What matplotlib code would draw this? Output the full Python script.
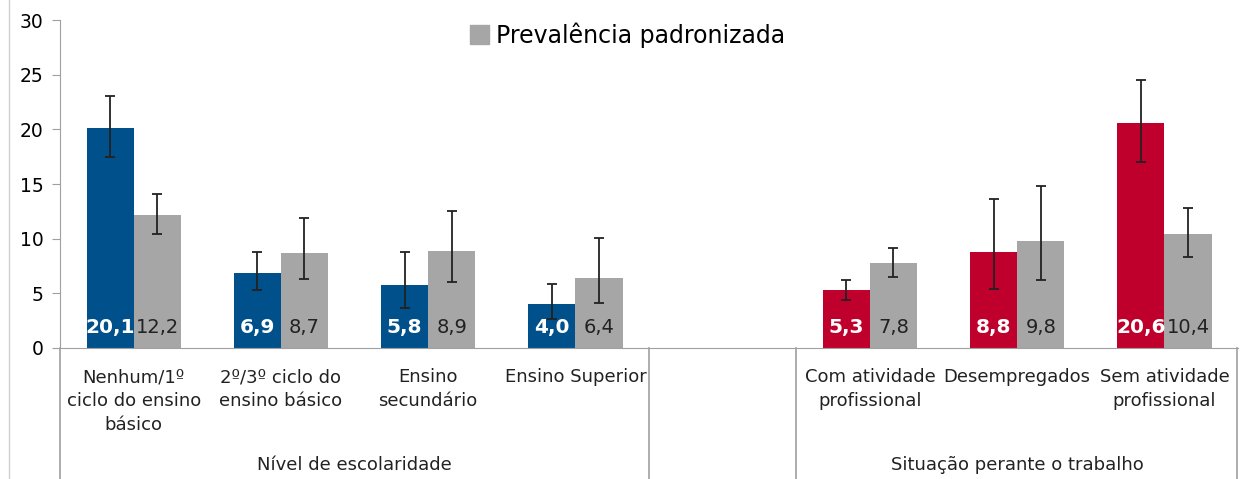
import numpy as np
import matplotlib
matplotlib.use("Agg")
import matplotlib.pyplot as plt
from matplotlib.lines import Line2D
from matplotlib.patches import Patch

# slots 0-3 = nível de escolaridade, slot 4 empty, slots 5-7 = situação perante o trabalho
labels = ["Nenhum/1º\nciclo do ensino\nbásico", "2º/3º ciclo do\nensino básico",
          "Ensino\nsecundário", "Ensino Superior",
          "Com atividade\nprofissional", "Desempregados", "Sem atividade\nprofissional"]
slots = [0, 1, 2, 3, 5, 6, 7]
groups = ["Nível de escolaridade", "Situação perante o trabalho"]

crude    = [20.1, 6.9, 5.8, 4.0, 5.3, 8.8, 20.6]
crude_lo = [17.45, 5.33, 3.65, 2.65, 4.4, 5.4, 17.0]
crude_hi = [23.05, 8.8, 8.8, 5.9, 6.23, 13.6, 24.5]

std    = [12.2, 8.7, 8.9, 6.4, 7.8, 9.8, 10.4]
std_lo = [10.47, 6.3, 6.03, 4.08, 6.47, 6.23, 8.3]
std_hi = [14.07, 11.85, 12.58, 10.1, 9.15, 14.86, 12.8]

blue = '#00508C'
red = '#C0002C'
gray = '#A6A6A6'
axcol = '#A0A0A0'

fig = plt.figure(figsize=(12.4, 4.79), dpi=100)
ax = fig.add_axes([0.0484, 0.2735, 0.9500, 0.6845])

x = np.array(slots, dtype=float)
w = 0.32
colors = [blue] * 4 + [red] * 3
crude = np.array(crude); std = np.array(std)
cerr = [crude - np.array(crude_lo), np.array(crude_hi) - crude]
serr = [std - np.array(std_lo), np.array(std_hi) - std]

ax.bar(x - w / 2, crude, w, color=colors, zorder=2)
ax.bar(x + w / 2, std, w, color=gray, zorder=2)
ax.errorbar(x - w / 2, crude, yerr=cerr, fmt='none', ecolor='#222222',
            elinewidth=1.3, capsize=3.5, capthick=1.3, zorder=3)
ax.errorbar(x + w / 2, std, yerr=serr, fmt='none', ecolor='#222222',
            elinewidth=1.3, capsize=3.5, capthick=1.3, zorder=3)

for xi, c, s in zip(x, crude, std):
    ax.text(xi - w / 2, 1.85, f"{c:.1f}".replace('.', ','), ha='center', va='center',
            color='white', fontsize=14.5, fontweight='bold', zorder=4)
    ax.text(xi + w / 2, 1.85, f"{s:.1f}".replace('.', ','), ha='center', va='center',
            color='#222222', fontsize=14, zorder=4)

ax.set_xlim(-0.5, 7.5)
ax.set_ylim(0, 30)
ax.set_yticks([0, 5, 10, 15, 20, 25, 30])
ax.tick_params(axis='y', labelsize=13.5, length=6, color=axcol, pad=6)
ax.set_xticks([])
for sp in ['top', 'right']:
    ax.spines[sp].set_visible(False)
ax.spines['left'].set_color(axcol)
ax.spines['bottom'].set_color(axcol)

# category labels and group separators below the axis
tr = ax.get_xaxis_transform()
for xi, lab in zip(x, labels):
    ax.text(xi, -0.062, lab, transform=tr, ha='center', va='top', fontsize=13,
            color='#222222', linespacing=1.42)
ax.text(1.5, -0.357, groups[0], transform=tr, ha='center', va='center',
        fontsize=13, color='#222222')
ax.text(6.0, -0.357, groups[1], transform=tr, ha='center', va='center',
        fontsize=13, color='#222222')
for xv in [-0.5, 3.5, 4.5, 7.49]:
    ax.plot([xv, xv], [0, -0.42], transform=tr, color=axcol, lw=1.2, clip_on=False)

# legend (only the standardized series)
fig.legend(handles=[Patch(color=gray, label='Prevalência padronizada')],
           loc='center left', bbox_to_anchor=(0.379, 0.927), frameon=False,
           fontsize=17, handlelength=0.8, handleheight=0.8, handletextpad=0.3,
           borderpad=0, borderaxespad=0)

# light outer border line on the left
fig.add_artist(Line2D([0.007, 0.007], [0, 1], transform=fig.transFigure,
                      color='#D0D0D0', lw=1))

fig.savefig('out.png', dpi=100)
